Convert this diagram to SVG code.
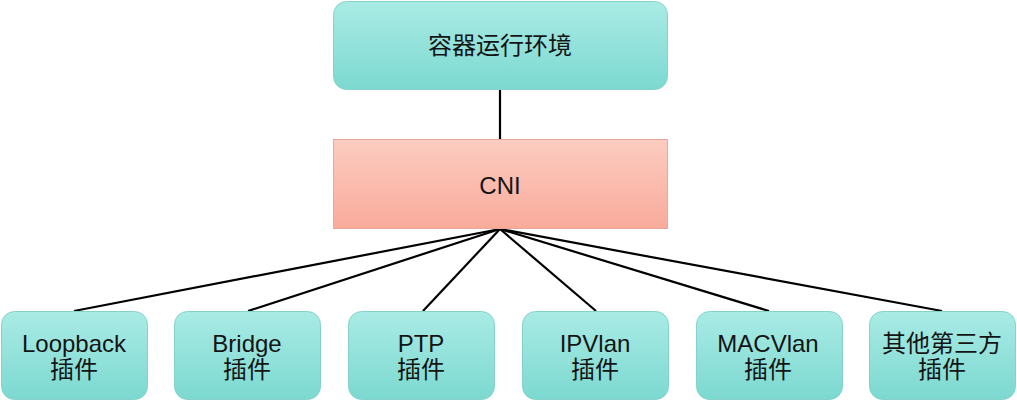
<svg xmlns="http://www.w3.org/2000/svg" width="1017" height="402" viewBox="0 0 1017 402">
<style>
.teal{fill:url(#gt);stroke:#86d2cb;stroke-width:1}
.pink{fill:url(#gp);stroke:#e8a99c;stroke-width:1}
text{font-family:"Liberation Sans","Noto Sans CJK SC",sans-serif;font-size:24px;fill:#141414;text-anchor:middle}
.conn line{stroke:#000;stroke-width:2.2}
</style>
<defs>
<linearGradient id="gt" x1="0" y1="0" x2="0" y2="1"><stop offset="0" stop-color="#a9ebe5"/><stop offset="1" stop-color="#7cd9d0"/></linearGradient>
<linearGradient id="gp" x1="0" y1="0" x2="0" y2="1"><stop offset="0" stop-color="#fcccc0"/><stop offset="1" stop-color="#f9ab9b"/></linearGradient>
</defs>
<g class="conn">
<line x1="500" y1="89" x2="500" y2="139"/>
<line x1="500" y1="229" x2="74" y2="311"/>
<line x1="500" y1="229" x2="248" y2="311"/>
<line x1="500" y1="229" x2="423" y2="311"/>
<line x1="500" y1="229" x2="596" y2="311"/>
<line x1="500" y1="229" x2="769" y2="311"/>
<line x1="500" y1="229" x2="942" y2="311"/>
</g>
<g id="runtime"><rect class="teal" x="333.5" y="1.5" width="334" height="88" rx="13"/><text x="500" y="54">容器运行环境</text></g>
<g id="cni"><rect class="pink" x="333.5" y="139.5" width="334" height="89"/><text x="500" y="194">CNI</text></g>
<g id="loopback"><rect class="teal" x="1.5" y="311.5" width="146" height="88" rx="13"/><text x="74" y="352">Loopback</text><text x="74" y="378">插件</text></g>
<g id="bridge"><rect class="teal" x="174.5" y="311.5" width="146" height="88" rx="13"/><text x="247" y="352">Bridge</text><text x="247" y="378">插件</text></g>
<g id="ptp"><rect class="teal" x="348.5" y="311.5" width="146" height="88" rx="13"/><text x="421" y="352">PTP</text><text x="421" y="378">插件</text></g>
<g id="ipvlan"><rect class="teal" x="522.5" y="311.5" width="146" height="88" rx="13"/><text x="595" y="352">IPVlan</text><text x="595" y="378">插件</text></g>
<g id="macvlan"><rect class="teal" x="696.5" y="311.5" width="146" height="88" rx="13"/><text x="768" y="352">MACVlan</text><text x="768" y="378">插件</text></g>
<g id="other"><rect class="teal" x="869.5" y="311.5" width="146" height="88" rx="13"/><text x="942" y="352">其他第三方</text><text x="942" y="378">插件</text></g>
</svg>
